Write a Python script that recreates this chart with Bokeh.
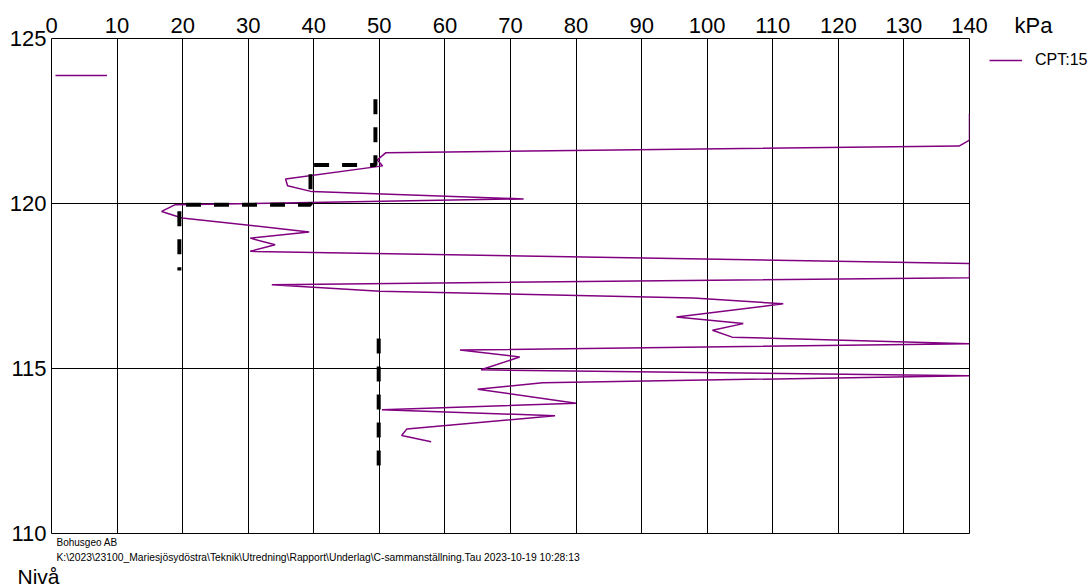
from bokeh.plotting import figure
from bokeh.layouts import row
from bokeh.models import Range1d, FixedTicker, Legend, LegendItem, Title
from bokeh.embed import file_html
from bokeh.resources import INLINE

FONT = "Liberation Sans"

# ---- axis ticks / grid ----
x_ticks = [0, 10, 20, 30, 40, 50, 60, 70, 80, 90, 100, 110, 120, 130, 140]
y_ticks = [110, 115, 120, 125]
x_grid = [10, 20, 30, 40, 50, 60, 70, 80, 90, 100, 110, 120, 130]
y_grid = [115, 120]

# ---- CPT:15 sounding (kPa vs level), values shown clipped at 140 ----
cpt_kpa = [140, 140, 138.4, 51.0, 49.7, 50.5, 35.7, 36.0, 39.7, 72.0,
           18.8, 16.8, 19.9, 39.3, 30.3, 34.1, 30.3, 140, 140, 33.6,
           50.1, 97.9, 111.6, 95.3, 105.5, 100.8, 103.8, 140, 62.3, 71.4,
           65.5, 140, 74.9, 65.0, 80.0, 50.4, 76.8, 54.2, 53.4, 57.9]
cpt_level = [122.73, 121.92, 121.74, 121.54, 121.32, 121.14, 120.74, 120.54, 120.36, 120.14,
             119.96, 119.76, 119.56, 119.14, 118.95, 118.75, 118.55, 118.18, 117.75, 117.54,
             117.34, 117.14, 116.96, 116.56, 116.36, 116.16, 115.95, 115.75, 115.56, 115.35,
             114.96, 114.78, 114.57, 114.37, 113.95, 113.75, 113.57, 113.17, 112.97, 112.78]

# ---- dashed evaluated strength profiles ----
su1_kpa = [49.4, 49.4, 39.5, 39.5, 19.5, 19.5]
su1_level = [123.16, 121.17, 121.17, 119.96, 119.96, 117.97]
su2_kpa = [49.9, 49.9]
su2_level = [115.91, 112.05]

legend_label = "CPT:15"
unit_label = "kPa"
footer_company = "Bohusgeo AB"
footer_path = r"K:\2023\23100_Mariesjösydöstra\Teknik\Utredning\Rapport\Underlag\C-sammanställning.Tau 2023-10-19 10:28:13"
level_label = "Nivå"

CPT_COLOR = "#800080"

# ================= main plot =================
p = figure(width=988, height=587, output_backend="svg", toolbar_location=None,
           x_range=Range1d(0, 140), y_range=Range1d(110, 125),
           x_axis_location="above",
           min_border_left=51, min_border_right=19, min_border_top=38, min_border_bottom=52)

p.background_fill_color = "white"
p.border_fill_color = "white"
p.outline_line_color = "black"
p.outline_line_width = 1

for ax in (p.xaxis[0], p.yaxis[0]):
    ax.axis_line_color = None
    ax.major_tick_line_color = None
    ax.minor_tick_line_color = None
    ax.major_tick_out = 0
    ax.major_tick_in = 0
    ax.minor_tick_out = 0
    ax.minor_tick_in = 0
    ax.major_label_text_font = FONT
    ax.major_label_text_font_size = "22px"
    ax.major_label_text_color = "black"

p.xaxis[0].ticker = FixedTicker(ticks=x_ticks)
p.xaxis[0].major_label_standoff = 6
p.yaxis[0].ticker = FixedTicker(ticks=y_ticks)
p.yaxis[0].major_label_standoff = 5

p.xgrid.ticker = FixedTicker(ticks=x_grid)
p.ygrid.ticker = FixedTicker(ticks=y_grid)
for g in (p.xgrid[0], p.ygrid[0]):
    g.grid_line_color = "black"
    g.grid_line_alpha = 1
    g.grid_line_width = 1

cpt = p.line(cpt_kpa, cpt_level, line_color=CPT_COLOR, line_width=1.5)
p.line(su1_kpa, su1_level, line_color="black", line_width=4, line_dash="15 13")
p.line(su2_kpa, su2_level, line_color="black", line_width=4, line_dash="15 13")

# legend sample inside the frame (top-left)
leg_in = Legend(items=[LegendItem(label=" ", renderers=[cpt])],
                location=(4, 448), glyph_width=52, glyph_height=20, label_height=20,
                label_standoff=0, padding=0, margin=0, spacing=0,
                border_line_color=None, background_fill_alpha=0,
                label_text_font=FONT, label_text_font_size="10px")
p.add_layout(leg_in)

# footer lines
p.add_layout(Title(text=footer_company, align="left", offset=5, standoff=3,
                   text_font=FONT, text_font_size="10px", text_font_style="normal",
                   text_color="black"), "below")
p.add_layout(Title(text=footer_path, align="left", offset=5, standoff=0,
                   text_font=FONT, text_font_size="10.3px", text_font_style="normal",
                   text_color="black"), "below")
p.add_layout(Title(text=level_label, align="left", offset=-34, standoff=0,
                   text_font=FONT, text_font_size="21px", text_font_style="normal",
                   text_color="black"), "below")

# ================= side strip: unit + legend =================
side = figure(width=102, height=587, output_backend="svg", toolbar_location=None,
              x_range=Range1d(0, 1), y_range=Range1d(0, 1),
              x_axis_type=None, y_axis_type=None,
              min_border_left=0, min_border_right=0, min_border_top=38, min_border_bottom=52)
side.outline_line_color = None
side.grid.visible = False
side.background_fill_color = "white"
side.border_fill_color = "white"

# unit text above the strip's frame, level with the tick labels
side.add_layout(Title(text=unit_label, align="left", offset=26, standoff=1,
                      text_font=FONT, text_font_size="22px", text_font_style="normal",
                      text_color="black"), "above")

# same CPT series, lying outside this strip's ranges: only its legend sample shows
legend_proxy = side.line(cpt_kpa, cpt_level, line_color=CPT_COLOR, line_width=1.5)
leg_out = Legend(items=[LegendItem(label=legend_label, renderers=[legend_proxy])],
                 location=(1, 463), glyph_width=33, glyph_height=20, label_height=20,
                 label_standoff=13, padding=0, margin=0, spacing=0,
                 border_line_color=None, background_fill_alpha=0,
                 label_text_font=FONT, label_text_font_size="16px", label_text_color="black")
side.add_layout(leg_out)

layout = row(p, side, spacing=0)
open("out.html", "w").write(file_html(layout, INLINE))
